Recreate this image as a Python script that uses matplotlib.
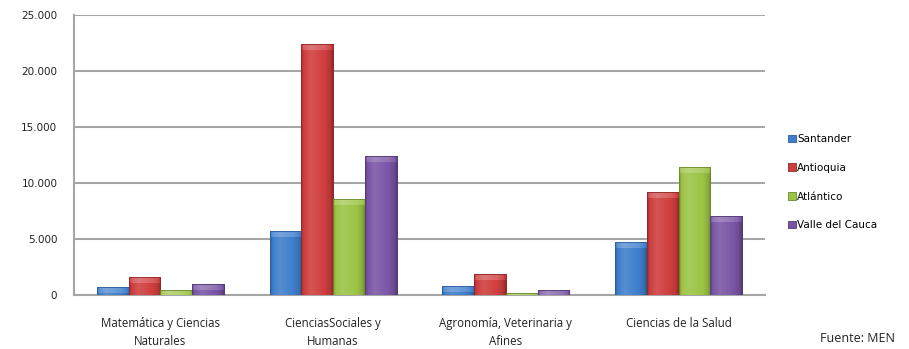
import matplotlib
matplotlib.use("Agg")
import matplotlib.pyplot as plt
import numpy as np
from matplotlib.colors import to_rgb

categories = ["Matemática y Ciencias\nNaturales", "CienciasSociales y\nHumanas",
              "Agronomía, Veterinaria y\nAfines", "Ciencias de la Salud"]
series_names = ["Santander", "Antioquia", "Atlántico", "Valle del Cauca"]
santander = [690, 5740, 800, 4730]
antioquia = [1580, 22440, 1880, 9170]
atlantico = [450, 8600, 210, 11460]
valle = [980, 12380, 450, 7050]
yticks = [0, 5000, 10000, 15000, 20000, 25000]
ytick_labels = ["0", "5.000", "10.000", "15.000", "20.000", "25.000"]

colors = ["#3D7ECC", "#CF3D3D", "#9CC444", "#7A55A5"]
edges = ["#2C5E9E", "#8E2828", "#6B8A2C", "#523878"]

W, H = 909, 349
fig = plt.figure(figsize=(W/100, H/100), dpi=100)
x0, x1, y0, y1 = 74, 765, 15, 295
ax = fig.add_axes([x0/W, 1-y1/H, (x1-x0)/W, (y1-y0)/H])

x = np.arange(len(categories))
w = 0.184
data = [santander, antioquia, atlantico, valle]
ax.set_ylim(0, 25000)
ax.set_xlim(-0.5, len(categories) - 0.5)

px_y = 25000 / (y1 - y0)  # data units per pixel

def shade(c, f):
    r = np.array(to_rgb(c))
    if f >= 0:
        return r + (1 - r) * f
    return r * (1 + f)

for i, (vals, name) in enumerate(zip(data, series_names)):
    bars = ax.bar(x + (i - 1.5) * w, vals, width=w, color=colors[i], edgecolor=edges[i],
                  linewidth=0.6, label=name, zorder=3)
    # horizontal gradient for bevel look
    t = np.linspace(0, 1, 64)
    prof = np.interp(t, [0, 0.08, 0.3, 0.75, 0.92, 1.0], [-0.25, 0.0, 0.12, 0.0, -0.12, -0.3])
    img = np.array([shade(colors[i], f) for f in prof])[None, :, :]
    for b in bars:
        bx, bw, bh = b.get_x(), b.get_width(), b.get_height()
        im = ax.imshow(img, extent=[bx, bx + bw, 0, bh], aspect="auto", zorder=3.5,
                       interpolation="bilinear")
        im.set_clip_path(b)
        cap = min(bh, 6 * px_y)
        capimg = np.array([shade(colors[i], f + 0.18) for f in prof])[None, :, :]
        im2 = ax.imshow(capimg, extent=[bx, bx + bw, bh - cap, bh], aspect="auto",
                        zorder=3.6, interpolation="bilinear")
        im2.set_clip_path(b)
        ax.bar(bx + bw / 2, bh, width=bw, fill=False, edgecolor=edges[i],
               linewidth=0.6, zorder=3.7)

ax.set_xlim(-0.5, len(categories) - 0.5)
ax.set_ylim(0, 25000)
ax.set_yticks(yticks)
ax.set_yticklabels(ytick_labels, fontsize=7.5, family="DejaVu Sans", color="#222222")
ax.set_xticks(x)
ax.set_xticklabels(categories, fontsize=8.3, family="Open Sans", color="#222222",
                   linespacing=1.45)
ax.tick_params(axis="y", length=0, pad=12)
ax.tick_params(axis="x", length=0, pad=16)
ax.grid(axis="y", color="#A6A6A6", linewidth=1.5, zorder=0)
for s in ["top", "right"]:
    ax.spines[s].set_visible(False)
for s in ["left", "bottom"]:
    ax.spines[s].set_color("#A6A6A6")
    ax.spines[s].set_linewidth(1.5)

leg = fig.legend(loc="upper left", bbox_to_anchor=(788/W, 1-134/H), frameon=False,
                 prop={"family": "DejaVu Sans", "size": 7.5}, handlelength=0.75,
                 handleheight=0.75, handletextpad=0.15, labelspacing=1.8,
                 borderaxespad=0, borderpad=0)
fig.text(820/W, 1-338/H, "Fuente: MEN", fontsize=9, family="Open Sans",
         color="#222222", va="center", ha="left")

fig.savefig("out.png", dpi=100)
